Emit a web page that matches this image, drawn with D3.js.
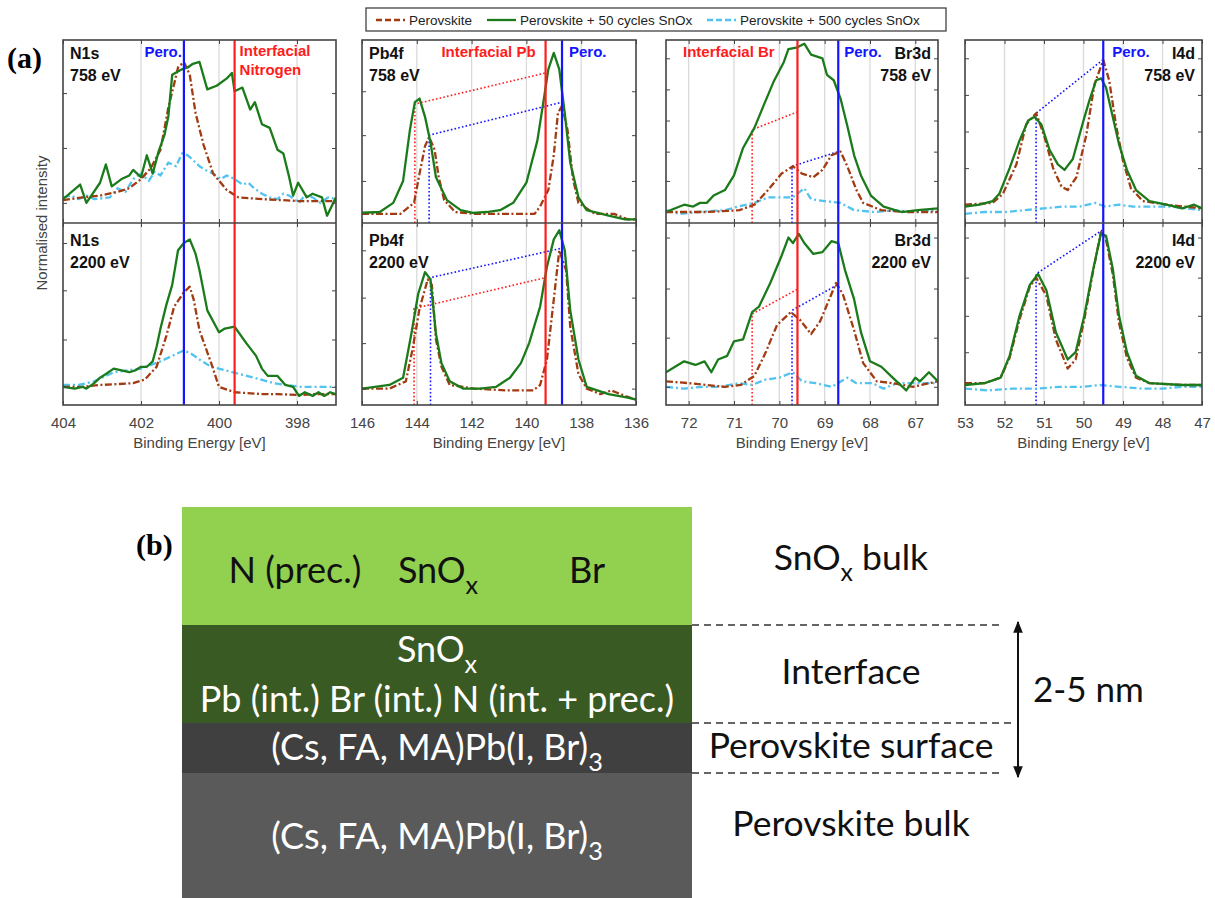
<!DOCTYPE html>
<html>
<head>
<meta charset="utf-8">
<script src="https://cdn.jsdelivr.net/npm/d3@7"></script>
<style>
  body { margin: 0; background: #fff; }
  svg { display: block; font-family: "Liberation Sans", Arial, sans-serif; }
  .serif { font-family: "Liberation Serif", "Times New Roman", serif; }
  .calib text { font-family: Lato, "Open Sans", sans-serif; }
</style>
</head>
<body>
<svg id="fig" width="1215" height="898"></svg>
<script>
// ---------- data: [binding energy (eV), normalised intensity] ----------
const n1s758Pero = [[404.0,0.125],[403.5,0.14],[403.05,0.15],[402.6,0.17],[402.3,0.19],[402.0,0.24],[401.75,0.30],[401.5,0.40],[401.3,0.63],[401.15,0.76],[401.05,0.85],[400.9,0.88],[400.75,0.81],[400.6,0.60],[400.4,0.43],[400.15,0.27],[399.8,0.18],[399.5,0.14],[399.2,0.135],[398.85,0.13],[398.4,0.125],[397.95,0.12],[397.5,0.12],[397.0,0.12]]
const n1s758Sn50 = [[404.0,0.13],[403.56,0.21],[403.4,0.11],[403.05,0.22],[402.9,0.32],[402.75,0.20],[402.5,0.24],[402.3,0.26],[402.2,0.29],[402.0,0.25],[401.85,0.37],[401.7,0.27],[401.55,0.39],[401.4,0.48],[401.3,0.58],[401.2,0.81],[400.95,0.84],[400.8,0.85],[400.67,0.87],[400.5,0.88],[400.3,0.73],[400.06,0.75],[399.8,0.79],[399.67,0.82],[399.6,0.72],[399.4,0.74],[399.2,0.62],[399.08,0.66],[398.9,0.54],[398.7,0.52],[398.5,0.40],[398.35,0.38],[398.2,0.25],[398.1,0.15],[397.97,0.22],[397.75,0.14],[397.6,0.16],[397.36,0.14],[397.23,0.04],[397.0,0.14]]
const n1s758Sn500 = [[404.0,0.14],[403.8,0.15],[403.6,0.13],[403.4,0.15],[403.2,0.13],[402.8,0.14],[402.6,0.19],[402.4,0.17],[402.2,0.24],[402.0,0.27],[401.8,0.23],[401.65,0.28],[401.5,0.26],[401.3,0.33],[401.1,0.31],[400.95,0.38],[400.8,0.37],[400.65,0.34],[400.5,0.31],[400.35,0.29],[400.15,0.27],[399.95,0.24],[399.8,0.26],[399.6,0.24],[399.4,0.21],[399.25,0.22],[399.1,0.19],[398.9,0.16],[398.7,0.14],[398.5,0.13],[398.35,0.16],[398.2,0.15],[397.95,0.11],[397.8,0.15],[397.6,0.14],[397.4,0.11],[397.2,0.14],[397.0,0.13]]
const n1s2200Pero = [[404.0,0.10],[403.5,0.10],[403.05,0.11],[402.6,0.115],[402.2,0.12],[401.9,0.14],[401.6,0.21],[401.35,0.38],[401.15,0.54],[400.9,0.62],[400.75,0.65],[400.65,0.58],[400.5,0.41],[400.2,0.23],[400.0,0.10],[399.6,0.07],[398.9,0.06],[398.5,0.06],[397.95,0.055],[397.5,0.06],[397.0,0.06]]
const n1s2200Sn50 = [[404.0,0.10],[403.7,0.09],[403.5,0.10],[403.4,0.09],[403.2,0.12],[403.05,0.15],[402.9,0.17],[402.7,0.20],[402.5,0.19],[402.3,0.18],[402.15,0.19],[402.0,0.21],[401.85,0.21],[401.7,0.24],[401.6,0.32],[401.5,0.42],[401.35,0.55],[401.2,0.66],[401.05,0.85],[400.9,0.89],[400.75,0.91],[400.6,0.83],[400.5,0.74],[400.3,0.52],[400.0,0.40],[399.85,0.42],[399.6,0.43],[399.3,0.34],[399.05,0.27],[398.9,0.20],[398.75,0.16],[398.5,0.16],[398.3,0.11],[398.1,0.10],[397.95,0.05],[397.8,0.07],[397.6,0.05],[397.45,0.07],[397.3,0.05],[397.15,0.07],[397.0,0.06]]
const n1s2200Sn500 = [[404.0,0.11],[403.6,0.11],[403.2,0.13],[402.7,0.18],[402.35,0.19],[402.0,0.20],[401.5,0.24],[401.2,0.27],[400.9,0.30],[400.7,0.28],[400.5,0.25],[400.2,0.21],[399.65,0.18],[399.1,0.15],[398.6,0.12],[397.95,0.10],[397.0,0.10]]

const pb4f758Pero = [[146.0,0.05],[144.6,0.05],[144.1,0.11],[143.9,0.27],[143.7,0.42],[143.55,0.47],[143.35,0.40],[143.2,0.25],[143.0,0.125],[142.6,0.06],[141.9,0.05],[140.7,0.05],[139.7,0.05],[139.5,0.09],[139.2,0.18],[139.0,0.37],[138.85,0.60],[138.7,0.64],[138.5,0.51],[138.3,0.24],[138.1,0.11],[137.5,0.05],[136.8,0.05],[136.3,0.02],[136.0,0.02]]
const pb4f758Sn50 = [[146.0,0.056],[145.35,0.06],[144.86,0.11],[144.5,0.23],[144.25,0.51],[144.07,0.66],[143.9,0.68],[143.7,0.58],[143.5,0.44],[143.3,0.25],[142.9,0.125],[142.4,0.07],[141.95,0.055],[141.45,0.06],[140.96,0.07],[140.48,0.11],[140.0,0.22],[139.6,0.45],[139.35,0.69],[139.2,0.84],[139.0,0.93],[138.8,0.84],[138.6,0.60],[138.4,0.33],[138.1,0.14],[137.8,0.07],[137.0,0.04],[136.4,0.02],[136.0,0.02]]
const pb4f2200Pero = [[146.0,0.09],[145.0,0.09],[144.4,0.13],[144.15,0.31],[143.9,0.53],[143.6,0.69],[143.45,0.66],[143.3,0.36],[143.1,0.21],[142.8,0.11],[141.9,0.09],[140.7,0.08],[139.75,0.08],[139.5,0.11],[139.25,0.25],[139.0,0.58],[138.8,0.85],[138.55,0.74],[138.4,0.43],[138.1,0.17],[137.8,0.09],[137.3,0.06],[136.9,0.08],[136.4,0.05],[136.0,0.03]]
const pb4f2200Sn50 = [[146.0,0.09],[145.0,0.11],[144.5,0.15],[144.2,0.39],[143.95,0.61],[143.7,0.73],[143.5,0.69],[143.3,0.39],[143.1,0.23],[142.8,0.13],[142.3,0.09],[141.7,0.09],[141.1,0.10],[140.6,0.15],[140.2,0.23],[139.9,0.34],[139.5,0.54],[139.25,0.76],[139.0,0.91],[138.8,0.96],[138.6,0.85],[138.4,0.52],[138.1,0.25],[137.8,0.10],[137.0,0.06],[136.3,0.04],[136.0,0.03]]

const br3d758Pero = [[72.5,0.06],[71.6,0.06],[70.88,0.07],[70.55,0.10],[70.25,0.18],[69.95,0.27],[69.7,0.31],[69.5,0.27],[69.25,0.25],[69.05,0.29],[68.85,0.37],[68.65,0.39],[68.5,0.31],[68.3,0.18],[68.15,0.11],[67.75,0.07],[67.2,0.06],[66.5,0.06]]
const br3d758Sn50 = [[72.5,0.06],[72.1,0.10],[71.9,0.09],[71.75,0.11],[71.6,0.11],[71.45,0.15],[71.2,0.18],[71.0,0.26],[70.8,0.41],[70.55,0.52],[70.35,0.64],[70.13,0.77],[69.9,0.88],[69.8,0.95],[69.6,0.96],[69.45,0.98],[69.3,0.92],[69.05,0.90],[68.95,0.81],[68.8,0.78],[68.65,0.68],[68.5,0.53],[68.35,0.37],[68.2,0.26],[67.98,0.15],[67.7,0.09],[67.3,0.06],[66.95,0.07],[66.5,0.08]]
const br3d758Sn500 = [[72.5,0.07],[72.2,0.05],[71.8,0.06],[71.2,0.07],[70.9,0.09],[70.55,0.11],[70.25,0.14],[69.95,0.14],[69.7,0.14],[69.6,0.16],[69.45,0.19],[69.3,0.13],[69.0,0.12],[68.65,0.11],[68.35,0.07],[67.9,0.06],[67.5,0.07],[67.0,0.06],[66.5,0.07]]
const br3d2200Pero = [[72.5,0.13],[72.0,0.12],[71.2,0.10],[70.85,0.11],[70.55,0.16],[70.3,0.29],[70.05,0.44],[69.75,0.51],[69.55,0.47],[69.3,0.39],[69.1,0.46],[68.85,0.61],[68.75,0.67],[68.6,0.61],[68.35,0.41],[68.15,0.23],[67.85,0.13],[67.5,0.12],[67.05,0.10],[66.5,0.13]]
const br3d2200Sn50 = [[72.5,0.18],[72.3,0.21],[72.1,0.24],[71.85,0.22],[71.65,0.24],[71.5,0.18],[71.35,0.25],[71.15,0.27],[71.0,0.35],[70.8,0.36],[70.6,0.51],[70.45,0.54],[70.2,0.67],[69.95,0.82],[69.8,0.92],[69.7,0.89],[69.57,0.94],[69.45,0.89],[69.25,0.83],[69.05,0.84],[68.85,0.90],[68.7,0.89],[68.55,0.74],[68.35,0.58],[68.2,0.40],[68.0,0.24],[67.75,0.21],[67.5,0.15],[67.2,0.08],[67.0,0.15],[66.9,0.13],[66.7,0.18],[66.5,0.13]]
const br3d2200Sn500 = [[72.5,0.10],[72.1,0.09],[71.7,0.10],[71.3,0.10],[70.9,0.12],[70.6,0.11],[70.3,0.14],[70.0,0.15],[69.7,0.18],[69.5,0.13],[69.2,0.12],[68.85,0.10],[68.5,0.15],[68.3,0.12],[67.95,0.12],[67.7,0.09],[67.4,0.12],[67.0,0.12],[66.5,0.12]]

const i4d758Pero = [[53.0,0.10],[52.3,0.11],[52.04,0.16],[51.7,0.32],[51.45,0.54],[51.2,0.60],[51.0,0.48],[50.77,0.30],[50.56,0.20],[50.4,0.18],[50.18,0.25],[49.93,0.48],[49.72,0.76],[49.5,0.89],[49.35,0.78],[49.18,0.54],[49.0,0.34],[48.8,0.19],[48.5,0.12],[47.9,0.10],[47.0,0.08]]
const i4d758Sn50 = [[53.0,0.09],[52.63,0.10],[52.3,0.12],[52.13,0.16],[51.87,0.30],[51.62,0.45],[51.4,0.56],[51.24,0.58],[51.07,0.54],[50.86,0.40],[50.65,0.32],[50.48,0.29],[50.27,0.35],[50.0,0.56],[49.85,0.67],[49.68,0.78],[49.55,0.79],[49.43,0.74],[49.26,0.58],[49.1,0.43],[48.9,0.29],[48.67,0.18],[48.33,0.12],[47.9,0.10],[47.5,0.08],[47.2,0.10],[47.0,0.08]]
const i4d758Sn500 = [[53.0,0.05],[52.5,0.06],[52.0,0.06],[51.5,0.07],[51.0,0.08],[50.5,0.09],[50.1,0.09],[49.7,0.11],[49.45,0.09],[49.1,0.10],[48.75,0.09],[48.3,0.09],[47.8,0.09],[47.4,0.08],[47.0,0.07]]
const i4d2200Pero = [[53.0,0.12],[52.5,0.12],[52.1,0.15],[51.87,0.26],[51.62,0.47],[51.36,0.65],[51.2,0.70],[50.94,0.60],[50.7,0.36],[50.4,0.20],[50.2,0.25],[49.98,0.47],[49.77,0.72],[49.56,0.95],[49.45,0.93],[49.26,0.72],[49.1,0.45],[48.9,0.26],[48.67,0.15],[48.33,0.12],[47.5,0.11],[47.0,0.11]]
const i4d2200Sn50 = [[53.0,0.11],[52.5,0.12],[52.1,0.15],[51.87,0.27],[51.62,0.49],[51.36,0.66],[51.15,0.72],[50.94,0.63],[50.7,0.40],[50.4,0.25],[50.2,0.29],[49.98,0.49],[49.77,0.73],[49.56,0.94],[49.43,0.93],[49.26,0.75],[49.1,0.49],[48.9,0.29],[48.67,0.16],[48.33,0.12],[47.5,0.11],[47.0,0.11]]
const i4d2200Sn500 = [[53.0,0.09],[52.4,0.08],[51.8,0.09],[51.2,0.09],[50.6,0.10],[50.0,0.10],[49.6,0.11],[49.1,0.10],[48.5,0.09],[48.0,0.09],[47.5,0.10],[47.0,0.10]]

// dotted peak-shift guides (interfacial = red, perovskite = blue)
const pb4f758Int = [[144.07,0],[144.07,0.65],[139.3,0.82]]
const pb4f758Bulk = [[143.55,0],[143.55,0.48],[138.7,0.66]]
const pb4f2200Int = [[144.1,0],[144.1,0.53],[139.3,0.70]]
const pb4f2200Bulk = [[143.5,0],[143.5,0.70],[138.75,0.86]]
const br3d758Int = [[70.6,0],[70.6,0.51],[69.57,0.61]]
const br3d758Bulk = [[69.72,0],[69.72,0.31],[68.7,0.39]]
const br3d2200Int = [[70.6,0],[70.6,0.50],[69.57,0.64]]
const br3d2200Bulk = [[69.72,0],[69.72,0.52],[68.72,0.66]]
const i4d758Bulk = [[51.2,0],[51.2,0.60],[49.52,0.89]]
const i4d2200Bulk = [[51.2,0],[51.2,0.72],[49.53,0.96]]

// reference energies (solid vertical lines)
const n1sRefs = [{e:400.9, c:"blue"}, {e:399.6, c:"red"}]
const pb4fRefs = [{e:139.3, c:"red"}, {e:138.7, c:"blue"}]
const br3dRefs = [{e:69.6, c:"red"}, {e:68.7, c:"blue"}]
const i4dRefs = [{e:49.5, c:"blue"}]

const legendLabels = ["Perovskite", "Perovskite + 50 cycles SnOx", "Perovskite + 500 cycles SnOx"]

// (b) layer stack
const layerNames = ["SnO_x bulk", "Interface", "Perovskite surface", "Perovskite bulk"]
const layerThickness = [1.18, 0.98, 0.50, 1.25]
const layerColors = ["#92d050", "#3a5a24", "#404040", "#5a5a5a"]

// ---------- setup ----------
const svg = d3.select("#fig")
const col = {blue: "#1414ff", red: "#ff1c1c", pero: "#a23b12", sn50: "#1b7b1b", sn500: "#52c2ef"}
const seriesStyle = [
  {key: "sn500", color: col.sn500, dash: "7,3,2,3"},
  {key: "pero", color: col.pero, dash: "7,2.5,2,2.5"},
  {key: "sn50", color: col.sn50, dash: null}
]
const topY = 40, midY = 223, botY = 405

const panels = [
  {key: "n1s", name: "N1s", x0: 63, x1: 336, domain: [404, 397], ticks: [404, 402, 400, 398], side: "left", refs: n1sRefs,
   notes: [{t: "Pero.", e: 400.9, dx: -2, a: "end", c: "blue", y: 57}, {t: "Interfacial", e: 399.6, dx: 5, a: "start", c: "red", y: 56}, {t: "Nitrogen", e: 399.6, dx: 5, a: "start", c: "red", y: 75}],
   rows: [
     {energy: "758 eV", pero: n1s758Pero, sn50: n1s758Sn50, sn500: n1s758Sn500, yTicks: [0.11, 0.41, 0.71], guides: []},
     {energy: "2200 eV", pero: n1s2200Pero, sn50: n1s2200Sn50, sn500: n1s2200Sn500, yTicks: [0.10, 0.36, 0.63, 0.89], guides: []}
   ]},
  {key: "pb4f", name: "Pb4f", x0: 362, x1: 636, domain: [146, 136], ticks: [146, 144, 142, 140, 138, 136], side: "left", refs: pb4fRefs,
   notes: [{t: "Interfacial Pb", e: 139.3, dx: -10, a: "end", c: "red", y: 57}, {t: "Pero.", e: 138.7, dx: 7, a: "start", c: "blue", y: 57}],
   rows: [
     {energy: "758 eV", pero: pb4f758Pero, sn50: pb4f758Sn50, yTicks: [0.23, 0.48, 0.72], guides: [{d: pb4f758Int, c: "red"}, {d: pb4f758Bulk, c: "blue"}]},
     {energy: "2200 eV", pero: pb4f2200Pero, sn50: pb4f2200Sn50, yTicks: [0.09, 0.34, 0.59, 0.85], guides: [{d: pb4f2200Int, c: "red"}, {d: pb4f2200Bulk, c: "blue"}]}
   ]},
  {key: "br3d", name: "Br3d", x0: 666, x1: 938, domain: [72.5, 66.5], ticks: [72, 71, 70, 69, 68, 67], side: "right", refs: br3dRefs,
   notes: [{t: "Interfacial Br", e: 72.5, dx: 17, a: "start", c: "red", y: 57}, {t: "Pero.", e: 68.7, dx: 6, a: "start", c: "blue", y: 57}],
   rows: [
     {energy: "758 eV", pero: br3d758Pero, sn50: br3d758Sn50, sn500: br3d758Sn500, yTicks: [0.23, 0.39, 0.56, 0.73, 0.90], guides: [{d: br3d758Int, c: "red"}, {d: br3d758Bulk, c: "blue"}]},
     {energy: "2200 eV", pero: br3d2200Pero, sn50: br3d2200Sn50, sn500: br3d2200Sn500, yTicks: [0.10, 0.37, 0.64, 0.92], guides: [{d: br3d2200Int, c: "red"}, {d: br3d2200Bulk, c: "blue"}]}
   ]},
  {key: "i4d", name: "I4d", x0: 965, x1: 1202, domain: [53, 47], ticks: [53, 52, 51, 50, 49, 48, 47], side: "right", refs: i4dRefs,
   notes: [{t: "Pero.", e: 49.5, dx: 9, a: "start", c: "blue", y: 57}],
   rows: [
     {energy: "758 eV", pero: i4d758Pero, sn50: i4d758Sn50, sn500: i4d758Sn500, yTicks: [0.30, 0.50, 0.70, 0.90], guides: [{d: i4d758Bulk, c: "blue"}]},
     {energy: "2200 eV", pero: i4d2200Pero, sn50: i4d2200Sn50, sn500: i4d2200Sn500, yTicks: [0.29, 0.49, 0.70, 0.92], guides: [{d: i4d2200Bulk, c: "blue"}]}
   ]}
]

const frameCol = "#444"
const noDomain = g => { g.select(".domain").remove(); g.attr("color", frameCol) }

panels.forEach(p => {
  const x = d3.scaleLinear().domain(p.domain).range([p.x0, p.x1])
  const gp = svg.append("g").attr("class", "panel " + p.key)

  p.rows.forEach((row, i) => {
    const y0 = i === 0 ? topY : midY, y1 = i === 0 ? midY : botY
    const y = d3.scaleLinear().domain([0, 1]).range([y1, y0])
    const g = gp.append("g")
    const clipId = `clip-${p.key}-${i}`
    g.append("clipPath").attr("id", clipId)
      .append("rect").attr("x", p.x0).attr("y", y0).attr("width", p.x1 - p.x0).attr("height", y1 - y0)

    // light vertical grid
    g.selectAll(".grid").data(p.ticks.filter(t => t !== p.domain[0] && t !== p.domain[1])).join("line")
      .attr("class", "grid")
      .attr("x1", d => x(d)).attr("x2", d => x(d)).attr("y1", y0).attr("y2", y1)
      .attr("stroke", "#dadada").attr("stroke-width", 1.3)

    const plot = g.append("g").attr("clip-path", `url(#${clipId})`)
    const line = d3.line().x(d => x(d[0])).y(d => y(d[1]))

    row.guides.forEach(gd => {
      plot.append("path").datum(gd.d).attr("d", line)
        .attr("fill", "none").attr("stroke", col[gd.c]).attr("stroke-width", 1.6)
        .attr("stroke-dasharray", "1.6,2.2")
    })

    seriesStyle.forEach(s => {
      if (!row[s.key]) return
      plot.append("path").datum(row[s.key]).attr("d", line)
        .attr("fill", "none").attr("stroke", s.color).attr("stroke-width", 2.3)
        .attr("stroke-linejoin", "round")
        .attr("stroke-dasharray", s.dash)
    })

    // inward ticks on all four sides
    g.append("g").attr("transform", `translate(0,${y1})`)
      .call(d3.axisBottom(x).tickValues(p.ticks).tickSize(-4).tickFormat("")).call(noDomain)
    g.append("g").attr("transform", `translate(0,${y0})`)
      .call(d3.axisTop(x).tickValues(p.ticks).tickSize(-4).tickFormat("")).call(noDomain)
    g.append("g").attr("transform", `translate(${p.x0},0)`)
      .call(d3.axisLeft(y).tickValues(row.yTicks).tickSize(-4).tickFormat("")).call(noDomain)
    g.append("g").attr("transform", `translate(${p.x1},0)`)
      .call(d3.axisRight(y).tickValues(row.yTicks).tickSize(-4).tickFormat("")).call(noDomain)

    // core-level name and photon energy
    const lx = p.side === "left" ? p.x0 + 7 : p.x1 - 7
    const anchor = p.side === "left" ? "start" : "end"
    const base = i === 0 ? 59 : 246
    g.append("text").attr("x", lx).attr("y", base).attr("text-anchor", anchor)
      .attr("font-size", 16).attr("font-weight", "bold").attr("fill", "#111").text(p.name)
    g.append("text").attr("x", lx).attr("y", base + 22).attr("text-anchor", anchor)
      .attr("font-size", 16).attr("font-weight", "bold").attr("fill", "#111").text(row.energy)
  })

  // reference lines across both rows
  gp.selectAll(".ref").data(p.refs).join("line")
    .attr("x1", d => x(d.e)).attr("x2", d => x(d.e)).attr("y1", topY).attr("y2", botY)
    .attr("stroke", d => col[d.c]).attr("stroke-width", 2.2)

  gp.selectAll(".note").data(p.notes).join("text")
    .attr("x", d => x(d.e) + d.dx).attr("y", d => d.y).attr("text-anchor", d => d.a)
    .attr("font-size", 15).attr("font-weight", "bold").attr("fill", d => col[d.c]).text(d => d.t)

  // frames
  gp.append("rect").attr("x", p.x0).attr("y", topY).attr("width", p.x1 - p.x0).attr("height", botY - topY)
    .attr("fill", "none").attr("stroke", frameCol).attr("stroke-width", 1.6)
  gp.append("line").attr("x1", p.x0).attr("x2", p.x1).attr("y1", midY).attr("y2", midY)
    .attr("stroke", frameCol).attr("stroke-width", 1.6)

  // tick labels and axis title
  gp.append("g").attr("transform", `translate(0,${botY})`)
    .call(d3.axisBottom(x).tickValues(p.ticks).tickSize(0).tickPadding(12).tickFormat(d3.format("d")))
    .call(g => g.select(".domain").remove())
    .call(g => g.attr("font-family", null).selectAll("text").attr("font-size", 15).attr("fill", "#444"))
  gp.append("text").attr("x", (p.x0 + p.x1) / 2).attr("y", 448).attr("text-anchor", "middle")
    .attr("font-size", 15).attr("fill", "#444").text("Binding Energy [eV]")
})

svg.append("text").attr("transform", "translate(47,223) rotate(-90)").attr("text-anchor", "middle")
  .attr("font-size", 15).attr("fill", "#444").text("Normalised intensity")

// legend
const leg = svg.append("g")
leg.append("rect").attr("x", 366).attr("y", 8).attr("width", 580).attr("height", 23)
  .attr("fill", "#fff").attr("stroke", "#333").attr("stroke-width", 1.2)
const legX = [376, 487, 707]
const legStyle = [seriesStyle[1], seriesStyle[2], seriesStyle[0]]
legendLabels.forEach((lab, k) => {
  leg.append("line").attr("x1", legX[k]).attr("x2", legX[k] + 29).attr("y1", 20).attr("y2", 20)
    .attr("stroke", legStyle[k].color).attr("stroke-width", 2.3).attr("stroke-dasharray", legStyle[k].dash ? "6,3" : null)
  leg.append("text").attr("x", legX[k] + 33).attr("y", 25).attr("font-size", 13.5).attr("fill", "#222").text(lab)
})

svg.append("text").attr("class", "serif").attr("x", 7).attr("y", 68)
  .attr("font-weight", "bold").attr("font-size", 30).text("(a)")

// ---------- (b) schematic ----------
function rich(t, s, fs) {
  const re = /_(\w)/g
  let last = 0, m, shifted = false
  while ((m = re.exec(s))) {
    if (m.index > last) { t.append("tspan").attr("dy", shifted ? -fs * 0.3 : null).text(s.slice(last, m.index)); shifted = false }
    t.append("tspan").attr("dy", fs * 0.3).attr("font-size", fs * 0.7).text(m[1])
    shifted = true
    last = re.lastIndex
  }
  if (last < s.length) t.append("tspan").attr("dy", shifted ? -fs * 0.3 : null).text(s.slice(last))
}

const bx0 = 182, bx1 = 692
const cum = layerThickness.reduce((a, v) => { a.push(a[a.length - 1] + v); return a }, [0])
const yb = d3.scaleLinear().domain([0, cum[cum.length - 1]]).range([507, 898])
const gb = svg.append("g").attr("class", "calib")

gb.selectAll("rect").data(layerColors).join("rect")
  .attr("x", bx0).attr("width", bx1 - bx0)
  .attr("y", (d, k) => yb(cum[k])).attr("height", (d, k) => yb(cum[k + 1]) - yb(cum[k]))
  .attr("fill", d => d)

const fsB = 36
const layerText = [
  [{s: "N (prec.)", x: 295, dy: 17}, {s: "SnO_x", x: 438, dy: 17}, {s: "Br", x: 587, dy: 17}],
  [{s: "SnO_x", x: 437, dy: -12}, {s: "Pb (int.) Br (int.) N (int. + prec.)", x: 437, dy: 38}],
  [{s: "(Cs, FA, MA)Pb(I, Br)_3", x: 437, dy: 12}],
  [{s: "(Cs, FA, MA)Pb(I, Br)_3", x: 437, dy: 14}]
]
layerText.forEach((items, k) => {
  const cy = k === 3 ? 835 : (yb(cum[k]) + yb(cum[k + 1])) / 2
  items.forEach(it => {
    const t = gb.append("text").attr("x", it.x).attr("y", cy + it.dy).attr("text-anchor", "middle")
      .attr("font-size", fsB).attr("fill", k === 0 ? "#111" : "#fff")
    rich(t, it.s, fsB)
  })
})

// right-hand labels
const labelBase = [570, 684, 758, 836]
layerNames.forEach((nm, k) => {
  const t = gb.append("text").attr("x", 851).attr("y", labelBase[k]).attr("text-anchor", "middle")
    .attr("font-size", 35.5).attr("fill", "#111")
  rich(t, nm, 35.5)
})

// dashed boundaries
const dashEnds = [1003, 1012, 1003]
gb.selectAll(".bnd").data([1, 2, 3]).join("line")
  .attr("x1", bx1).attr("x2", (d, k) => dashEnds[k])
  .attr("y1", d => yb(cum[d])).attr("y2", d => yb(cum[d]))
  .attr("stroke", "#333").attr("stroke-width", 1.6).attr("stroke-dasharray", "7,5")

svg.append("defs").append("marker").attr("id", "ah").attr("viewBox", "0 0 10 10")
  .attr("refX", 9).attr("refY", 5).attr("markerWidth", 6).attr("markerHeight", 6).attr("orient", "auto-start-reverse")
  .append("path").attr("d", "M0,1L10,5L0,9Z").attr("fill", "#111")
gb.append("line").attr("x1", 1018).attr("x2", 1018).attr("y1", yb(cum[1]) - 3).attr("y2", yb(cum[3]) + 4)
  .attr("stroke", "#111").attr("stroke-width", 2)
  .attr("marker-start", "url(#ah)").attr("marker-end", "url(#ah)")
gb.append("text").attr("x", 1033).attr("y", 702).attr("font-size", 35).attr("fill", "#111").text("2-5 nm")

svg.append("text").attr("class", "serif").attr("x", 136).attr("y", 555)
  .attr("font-weight", "bold").attr("font-size", 30).text("(b)")
</script>
</body>
</html>
